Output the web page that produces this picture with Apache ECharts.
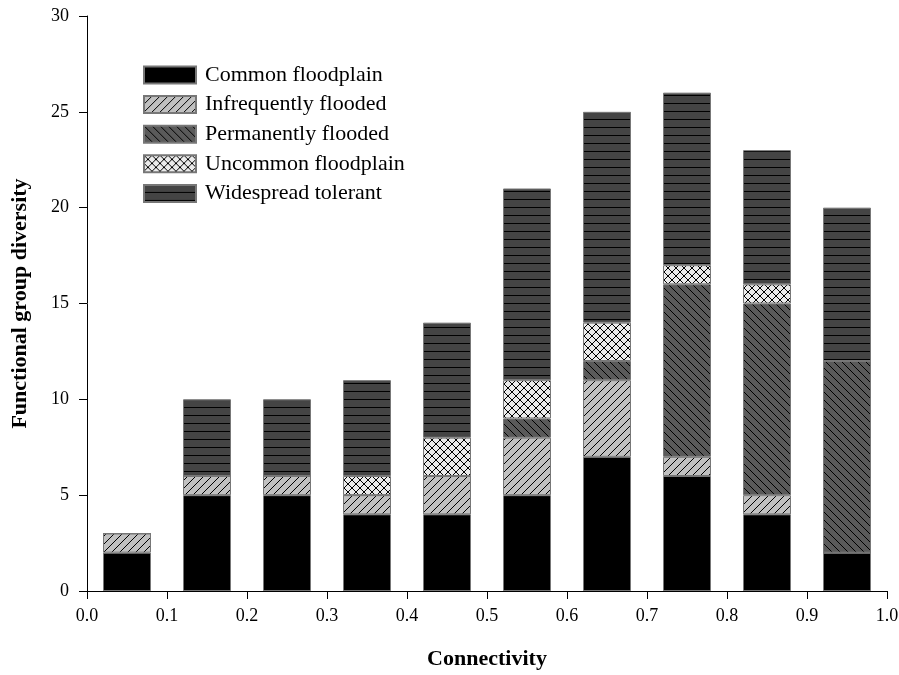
<!DOCTYPE html>
<html>
<head>
<meta charset="utf-8">
<script src="https://cdn.jsdelivr.net/npm/echarts@6/dist/echarts.min.js"></script>
<style>
  html, body { margin: 0; padding: 0; background: #fff; }
  #chart { width: 899px; height: 675px; }
</style>
</head>
<body>
<div id="chart"></div>
<script>
// bar centres on the connectivity axis (one per 0.1 class)
const connectivity = ['0.05', '0.15', '0.25', '0.35', '0.45', '0.55', '0.65', '0.75', '0.85', '0.95']

const commonFloodplain = [2, 5, 5, 4, 4, 5, 7, 6, 4, 2]
const infrequentlyFlooded = [1, 1, 1, 1, 2, 3, 4, 1, 1, 0]
const permanentlyFlooded = [0, 0, 0, 0, 0, 1, 1, 9, 10, 10]
const uncommonFloodplain = [0, 0, 0, 1, 2, 2, 2, 1, 1, 0]
const widespreadTolerant = [0, 4, 4, 5, 6, 10, 11, 9, 7, 8]

const FONT = '"Liberation Serif", "Times New Roman", serif'

// 패턴 캔버스 생성
function makePattern(bg, draw) {
  const size = 8
  const c = document.createElement('canvas')
  c.width = size
  c.height = size
  const ctx = c.getContext('2d')
  ctx.fillStyle = bg
  ctx.fillRect(0, 0, size, size)
  ctx.strokeStyle = '#000'
  ctx.lineWidth = 1
  draw(ctx, size)
  return { image: c, repeat: 'repeat' }
}

const slash = (ctx, s) => {
  ctx.beginPath()
  ctx.moveTo(-1, s + 1); ctx.lineTo(s + 1, -1)
  ctx.moveTo(-1, 1); ctx.lineTo(1, -1)
  ctx.moveTo(s - 1, s + 1); ctx.lineTo(s + 1, s - 1)
  ctx.stroke()
}
const backslash = (ctx, s) => {
  ctx.beginPath()
  ctx.moveTo(-1, -1); ctx.lineTo(s + 1, s + 1)
  ctx.moveTo(s - 1, -1); ctx.lineTo(s + 1, 1)
  ctx.moveTo(-1, s - 1); ctx.lineTo(1, s + 1)
  ctx.stroke()
}
const horizontal = (ctx, s) => {
  ctx.beginPath()
  ctx.moveTo(0, s - 0.5); ctx.lineTo(s, s - 0.5)
  ctx.stroke()
}

const patterns = {
  common: '#000000',
  infrequent: makePattern('#c0c0c0', slash),
  permanent: makePattern('#5a5a5a', backslash),
  uncommon: makePattern('#ebebeb', (ctx, s) => { slash(ctx, s); backslash(ctx, s) }),
  widespread: makePattern('#444444', horizontal)
}

const seriesDefs = [
  { name: 'Common floodplain', data: commonFloodplain, color: patterns.common },
  { name: 'Infrequently flooded', data: infrequentlyFlooded, color: patterns.infrequent },
  { name: 'Permanently flooded', data: permanentlyFlooded, color: patterns.permanent },
  { name: 'Uncommon floodplain', data: uncommonFloodplain, color: patterns.uncommon },
  { name: 'Widespread tolerant', data: widespreadTolerant, color: patterns.widespread }
]

const chart = echarts.init(document.getElementById('chart'))

chart.setOption({
  animation: false,
  grid: { left: 87, right: 12, top: 16, bottom: 84, outerBoundsMode: 'none' },
  legend: {
    orient: 'vertical',
    left: 138,
    top: 59,
    itemWidth: 52,
    itemHeight: 17,
    itemGap: 7.6,
    icon: 'rect',
    textStyle: { fontFamily: FONT, fontSize: 22, color: '#000', padding: [0, 0, 0, 4] },
    data: seriesDefs.map(s => s.name)
  },
  xAxis: [
    {
      // 막대 배치용 숨김 카테고리 축
      type: 'category',
      data: connectivity,
      boundaryGap: true,
      show: false
    },
    {
      type: 'value',
      min: 0,
      max: 1,
      interval: 0.1,
      position: 'bottom',
      name: 'Connectivity',
      nameLocation: 'middle',
      nameGap: 57,
      nameTextStyle: { fontFamily: FONT, fontSize: 22, fontWeight: 'bold', color: '#000' },
      axisLine: { show: true, lineStyle: { color: '#000', width: 1 } },
      axisTick: { show: true, length: 8, lineStyle: { color: '#000' } },
      axisLabel: {
        fontFamily: FONT, fontSize: 18, color: '#000', margin: 16,
        formatter: v => v.toFixed(1)
      },
      splitLine: { show: false }
    }
  ],
  yAxis: {
    type: 'value',
    min: 0,
    max: 30,
    interval: 5,
    name: 'Functional group diversity',
    nameLocation: 'middle',
    nameGap: 56,
    nameTextStyle: { fontFamily: FONT, fontSize: 22, fontWeight: 'bold', color: '#000' },
    axisLine: { show: true, lineStyle: { color: '#000', width: 1 } },
    axisTick: { show: true, length: 8, lineStyle: { color: '#000' } },
    axisLabel: { fontFamily: FONT, fontSize: 18, color: '#000', margin: 18 },
    splitLine: { show: false }
  },
  series: seriesDefs.map(s => ({
    name: s.name,
    type: 'bar',
    stack: 'total',
    xAxisIndex: 0,
    barWidth: '60%',
    itemStyle: { color: s.color, borderColor: '#777', borderWidth: 1 },
    data: s.data
  }))
})
</script>
</body>
</html>
